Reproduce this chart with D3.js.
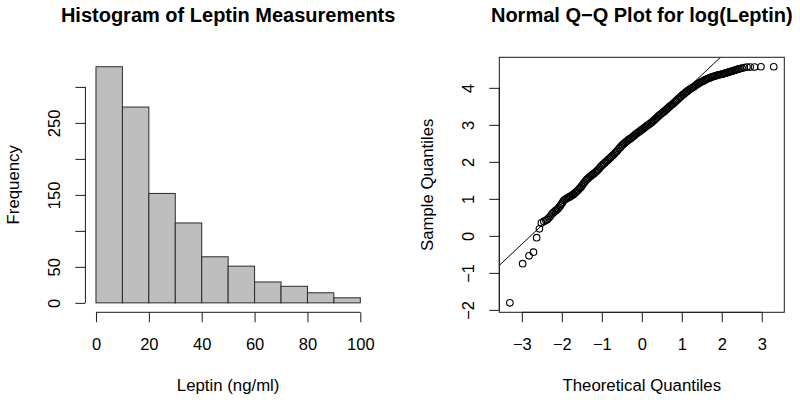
<!DOCTYPE html>
<html>
<head>
<meta charset="utf-8">
<script src="https://cdn.jsdelivr.net/npm/d3@7"></script>
<style>
  body { margin: 0; background: #fff; }
  svg { display: block; font-family: "Liberation Sans", Arial, Helvetica, sans-serif; }
</style>
</head>
<body>
<svg id="chart" width="800" height="403"></svg>
<script>
'use strict';

// Histogram of leptin (ng/ml), 10-unit bins
var binEdges = [0, 10, 20, 30, 40, 50, 60, 70, 80, 90, 100];
var binCounts = [328, 272, 152, 111, 64, 51, 29, 23, 14, 7];
var histXTicks = [0, 20, 40, 60, 80, 100];
var histYTicks = [0, 50, 100, 150, 200, 250, 300];
var histYLabels = [0, 50, 150, 250]; // R drops the labels that would overlap

// Normal Q-Q of log(leptin): theoretical vs sample quantiles
var qqTheoretical = [
  -3.30, -2.98, -2.82, -2.71, -2.63, -2.56, -2.51, -2.45, -2.40, -2.365, -2.33, -2.29,
  -2.25, -2.22, -2.19, -2.16, -2.13, -2.10, -2.07, -2.04, -2.01, -1.98,
  -1.95, -1.92, -1.89, -1.86, -1.83, -1.80, -1.77, -1.74, -1.71, -1.68,
  -1.65, -1.62, -1.59, -1.56, -1.53, -1.50, -1.47, -1.44, -1.41, -1.38,
  -1.35, -1.32, -1.29, -1.26, -1.23, -1.20, -1.17, -1.14, -1.11, -1.08,
  -1.05, -1.02, -0.99, -0.96, -0.93, -0.90, -0.87, -0.84, -0.81, -0.78,
  -0.75, -0.72, -0.69, -0.66, -0.63, -0.60, -0.57, -0.54, -0.51, -0.48,
  -0.45, -0.42, -0.39, -0.36, -0.33, -0.30, -0.27, -0.24, -0.21, -0.18,
  -0.15, -0.12, -0.09, -0.06, -0.03, 0.00, 0.03, 0.06, 0.09, 0.12,
  0.15, 0.18, 0.21, 0.24, 0.27, 0.30, 0.33, 0.36, 0.39, 0.42,
  0.45, 0.48, 0.51, 0.54, 0.57, 0.60, 0.63, 0.66, 0.69, 0.72,
  0.75, 0.78, 0.81, 0.84, 0.87, 0.90, 0.93, 0.96, 0.99, 1.02,
  1.05, 1.08, 1.11, 1.14, 1.17, 1.20, 1.23, 1.26, 1.29, 1.32,
  1.35, 1.38, 1.41, 1.44, 1.47, 1.50, 1.53, 1.56, 1.59, 1.62,
  1.65, 1.68, 1.71, 1.74, 1.77, 1.80, 1.83, 1.86, 1.89, 1.92,
  1.95, 1.98, 2.01, 2.04, 2.07, 2.10, 2.13, 2.16, 2.19, 2.22,
  2.25, 2.28, 2.31, 2.34, 2.37, 2.40, 2.43, 2.46,
  2.51, 2.56, 2.63, 2.71, 2.82, 2.98, 3.30
];
var qqSample = [
  -1.81, -0.75, -0.54, -0.44, -0.05, 0.19, 0.35, 0.39, 0.42, 0.44, 0.48, 0.53,
  0.59, 0.62, 0.65, 0.68, 0.70, 0.73, 0.77, 0.81, 0.86, 0.91,
  0.96, 0.98, 1.01, 1.02, 1.04, 1.06, 1.08, 1.10, 1.12, 1.15,
  1.18, 1.21, 1.24, 1.28, 1.31, 1.35, 1.40, 1.44, 1.48, 1.52,
  1.55, 1.58, 1.61, 1.63, 1.66, 1.68, 1.71, 1.74, 1.77, 1.80,
  1.84, 1.88, 1.91, 1.94, 1.97, 2.00, 2.03, 2.06, 2.09, 2.12,
  2.15, 2.18, 2.21, 2.25, 2.28, 2.32, 2.36, 2.39, 2.43, 2.46,
  2.49, 2.52, 2.55, 2.57, 2.60, 2.62, 2.64, 2.67, 2.69, 2.72,
  2.75, 2.77, 2.80, 2.82, 2.85, 2.87, 2.89, 2.92, 2.94, 2.97,
  2.99, 3.01, 3.04, 3.06, 3.09, 3.12, 3.15, 3.18, 3.21, 3.24,
  3.27, 3.29, 3.32, 3.35, 3.37, 3.40, 3.43, 3.46, 3.49, 3.52,
  3.54, 3.57, 3.60, 3.63, 3.66, 3.69, 3.72, 3.75, 3.78, 3.81,
  3.83, 3.86, 3.89, 3.91, 3.94, 3.96, 3.98, 4.00, 4.02, 4.04,
  4.07, 4.09, 4.11, 4.13, 4.15, 4.17, 4.18, 4.20, 4.22, 4.23,
  4.25, 4.26, 4.27, 4.29, 4.30, 4.31, 4.32, 4.33, 4.34, 4.35,
  4.36, 4.36, 4.37, 4.38, 4.39, 4.40, 4.41, 4.42, 4.43, 4.44,
  4.45, 4.46, 4.47, 4.48, 4.49, 4.50, 4.51, 4.52,
  4.53, 4.55, 4.56, 4.56, 4.56, 4.57, 4.57
];
// qqline goes through the sample quartiles at the normal quartiles
var qqLineTheoretical = [-0.674, 0.674];
var qqLineSample = [2.14, 3.51];
var qqXTicks = [-3, -2, -1, 0, 1, 2, 3];
var qqYTicks = [-2, -1, 0, 1, 2, 3, 4];

var svg = d3.select('#chart');
var ink = '#1a1a1a';
var plotTop = 57.3, plotBottom = 312.3;
var tickLen = 10;

function minus(d) { return d < 0 ? '\u2212' + Math.abs(d) : String(d); }

// R pads each axis range by 4%
function padded(lo, hi) {
  var pad = (hi - lo) * 0.04;
  return [lo - pad, hi + pad];
}

// Draw an R-style axis: line only between first and last tick, rotated y labels.
function rAxis(g, scale, ticks, labels, orient) {
  var axis = (orient === 'bottom' ? d3.axisBottom(scale) : d3.axisLeft(scale))
    .tickValues(ticks).tickSize(tickLen).tickFormat(function (d) {
      return labels.indexOf(d) >= 0 ? minus(d) : '';
    });
  g.call(axis);
  g.select('.domain').remove();
  g.selectAll('.tick line').attr('stroke', ink);
  var t0 = scale(ticks[0]), t1 = scale(ticks[ticks.length - 1]);
  if (orient === 'bottom') {
    g.append('line').attr('x1', t0).attr('x2', t1).attr('stroke', ink);
    g.selectAll('.tick text').attr('y', 26).attr('dy', '0.71em');
  } else {
    g.append('line').attr('y1', t0).attr('y2', t1).attr('stroke', ink);
    g.selectAll('.tick text')
      .attr('transform', 'rotate(-90)')
      .attr('x', 0).attr('y', -25.5).attr('dy', 0)
      .style('text-anchor', 'middle');
  }
  g.selectAll('.tick text').attr('fill', '#000').style('font-size', '16.5px')
    .style('font-family', '"Liberation Sans", Arial, sans-serif');
}

function titles(left, right, main, xlab, ylab) {
  var cx = (left + right) / 2, cy = (plotTop + plotBottom) / 2;
  svg.append('text').attr('x', cx).attr('y', 21.5).attr('text-anchor', 'middle')
    .style('font-size', '20px').style('font-weight', 'bold').text(main);
  svg.append('text').attr('x', cx).attr('y', 391).attr('text-anchor', 'middle')
    .style('font-size', '16.8px').text(xlab);
  svg.append('text').attr('transform', 'translate(' + (left - 66.5) + ',' + cy + ') rotate(-90)')
    .attr('text-anchor', 'middle').style('font-size', '16.8px').text(ylab);
}

// ---- Left: histogram ----
var hLeft = 85.4, hRight = 370.9;
var hx = d3.scaleLinear().domain(padded(binEdges[0], binEdges[binEdges.length - 1])).range([hLeft, hRight]);
var hy = d3.scaleLinear().domain(padded(0, d3.max(binCounts))).range([plotBottom, plotTop]);

svg.append('g').selectAll('rect').data(binCounts).enter().append('rect')
  .attr('x', function (d, i) { return hx(binEdges[i]); })
  .attr('width', function (d, i) { return hx(binEdges[i + 1]) - hx(binEdges[i]); })
  .attr('y', function (d) { return hy(d); })
  .attr('height', function (d) { return hy(0) - hy(d); })
  .attr('fill', '#bebebe').attr('stroke', '#2b2b2b').attr('stroke-width', 1);

rAxis(svg.append('g').attr('transform', 'translate(0,' + plotBottom + ')'), hx, histXTicks, histXTicks, 'bottom');
rAxis(svg.append('g').attr('transform', 'translate(' + hLeft + ',0)'), hy, histYTicks, histYLabels, 'left');
titles(hLeft, hRight, 'Histogram of Leptin Measurements', 'Leptin (ng/ml)', 'Frequency');

// ---- Right: normal Q-Q plot ----
var qLeft = 499.3, qRight = 784.3;
var qx = d3.scaleLinear().domain(padded(d3.min(qqTheoretical), d3.max(qqTheoretical))).range([qLeft, qRight]);
var qy = d3.scaleLinear().domain(padded(d3.min(qqSample), d3.max(qqSample))).range([plotBottom, plotTop]);

svg.append('clipPath').attr('id', 'qqclip').append('rect')
  .attr('x', qLeft).attr('y', plotTop).attr('width', qRight - qLeft).attr('height', plotBottom - plotTop);

svg.append('g').selectAll('circle').data(qqSample).enter().append('circle')
  .attr('cx', function (d, i) { return qx(qqTheoretical[i]); })
  .attr('cy', function (d) { return qy(d); })
  .attr('r', 3.3)
  .attr('fill', 'none').attr('stroke', '#000').attr('stroke-width', 1.1);

var slope = (qqLineSample[1] - qqLineSample[0]) / (qqLineTheoretical[1] - qqLineTheoretical[0]);
var intercept = qqLineSample[0] - slope * qqLineTheoretical[0];
var xd = qx.domain();
svg.append('line').attr('clip-path', 'url(#qqclip)')
  .attr('x1', qx(xd[0])).attr('y1', qy(intercept + slope * xd[0]))
  .attr('x2', qx(xd[1])).attr('y2', qy(intercept + slope * xd[1]))
  .attr('stroke', '#000').attr('stroke-width', 1);

svg.append('rect').attr('x', qLeft).attr('y', plotTop)
  .attr('width', qRight - qLeft).attr('height', plotBottom - plotTop)
  .attr('fill', 'none').attr('stroke', ink);

rAxis(svg.append('g').attr('transform', 'translate(0,' + plotBottom + ')'), qx, qqXTicks, qqXTicks, 'bottom');
rAxis(svg.append('g').attr('transform', 'translate(' + qLeft + ',0)'), qy, qqYTicks, qqYTicks, 'left');
titles(qLeft, qRight, 'Normal Q\u2212Q Plot for log(Leptin)', 'Theoretical Quantiles', 'Sample Quantiles');
</script>
</body>
</html>
